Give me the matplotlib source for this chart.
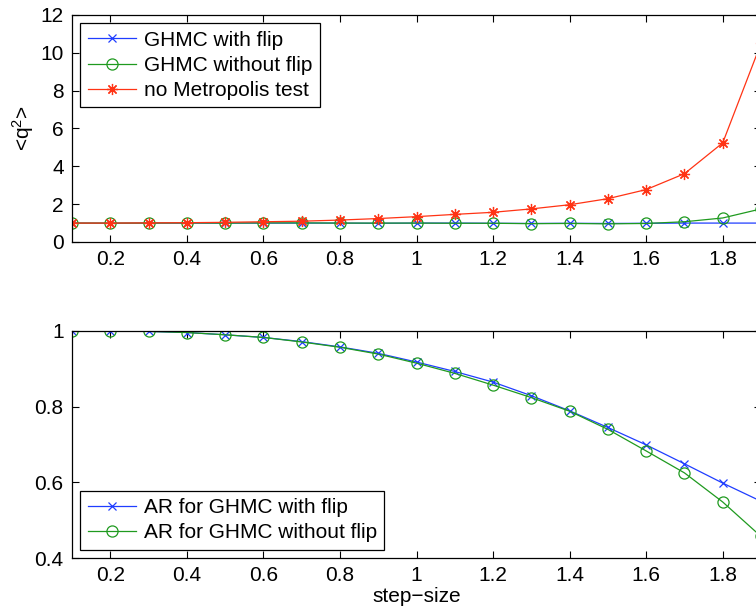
import numpy as np
import matplotlib
matplotlib.use('Agg')
import matplotlib.pyplot as plt

plt.rcParams['font.family'] = ['Liberation Sans', 'DejaVu Sans']
plt.rcParams['mathtext.default'] = 'regular'

step = [0.1, 0.2, 0.3, 0.4, 0.5, 0.6, 0.7, 0.8, 0.9, 1.0,
        1.1, 1.2, 1.3, 1.4, 1.5, 1.6, 1.7, 1.8, 1.9]

# <q^2>
q2_flip = [1.0, 0.99, 1.0, 1.0, 1.0, 1.0, 1.0, 1.0, 0.99, 1.0,
           1.0, 0.99, 0.98, 0.99, 0.98, 0.99, 1.0, 1.0, 1.0]
q2_noflip = [1.0, 1.0, 1.0, 1.01, 1.0, 1.01, 1.01, 1.0, 1.0, 1.0,
             0.99, 0.99, 0.97, 0.98, 0.96, 0.98, 1.07, 1.27, 1.75]
q2_nomet = [1.0, 1.0, 1.01, 1.02, 1.04, 1.07, 1.1, 1.16, 1.24, 1.34,
            1.46, 1.57, 1.75, 1.97, 2.29, 2.77, 3.61, 5.24, 10.5]

# acceptance rates
ar_flip = [1.0, 1.0, 0.999, 0.996, 0.990, 0.983, 0.972, 0.958, 0.941, 0.918,
           0.893, 0.865, 0.829, 0.789, 0.745, 0.699, 0.649, 0.598, 0.55]
ar_noflip = [1.0, 1.0, 0.999, 0.996, 0.990, 0.983, 0.971, 0.957, 0.939, 0.915,
             0.888, 0.857, 0.824, 0.788, 0.740, 0.683, 0.625, 0.548, 0.457]

blue = '#1f3dff'
green = '#1f9a1f'
red = '#ff3314'
fs = 15

fig = plt.figure(figsize=(7.56, 6.10), dpi=100)
W, H = 756.0, 610.0
ax1 = fig.add_axes([72 / W, 1 - 242 / H, (761 - 72) / W, (242 - 15) / H])
ax2 = fig.add_axes([72 / W, 1 - 558 / H, (761 - 72) / W, (558 - 331) / H])

ax1.plot(step, q2_flip, '-x', color=blue, lw=0.9, ms=6, mew=0.9, label='GHMC with flip')
ax1.plot(step, q2_noflip, '-o', color=green, lw=0.9, ms=8, mew=0.9, mfc='none', label='GHMC without flip')
ax1.plot(step, q2_nomet, '-', marker=(8, 2, 0), color=red, lw=0.9, ms=8, mew=0.9, label='no Metropolis test')
ax1.set_ylim(0, 12)
ax1.set_yticks(np.arange(0, 13, 2))
ax1.set_ylabel('<q$^2$>', fontsize=fs, labelpad=3)

ax2.plot(step, ar_flip, '-x', color=blue, lw=0.9, ms=6, mew=0.9, label='AR for GHMC with flip')
ax2.plot(step, ar_noflip, '-o', color=green, lw=0.9, ms=8, mew=0.9, mfc='none', label='AR for GHMC without flip')
ax2.set_ylim(0.4, 1.0)
ax2.set_yticks([0.4, 0.6, 0.8, 1.0])
ax2.set_yticklabels(['0.4', '0.6', '0.8', '1'])
ax2.set_xlabel('step\u2212size', fontsize=fs, labelpad=1)

xt = [0.2, 0.4, 0.6, 0.8, 1.0, 1.2, 1.4, 1.6, 1.8]
xl = ['0.2', '0.4', '0.6', '0.8', '1', '1.2', '1.4', '1.6', '1.8']
for ax in (ax1, ax2):
    ax.set_xlim(0.1, 1.9)
    ax.set_xticks(xt)
    ax.set_xticklabels(xl)
    ax.tick_params(direction='in', top=True, right=True, length=5, width=0.8,
                   labelsize=fs, pad=6)
    for s in ax.spines.values():
        s.set_linewidth(0.9)

leg1 = ax1.legend(loc='upper left', fontsize=fs, numpoints=1, fancybox=False,
                  edgecolor='black', framealpha=1, borderaxespad=0.4,
                  handlelength=2.3, handletextpad=0.4, labelspacing=0.3,
                  borderpad=0.35)
leg1.get_frame().set_linewidth(0.9)
leg2 = ax2.legend(loc='lower left', fontsize=fs, numpoints=1, fancybox=False,
                  edgecolor='black', framealpha=1, borderaxespad=0.4,
                  handlelength=2.3, handletextpad=0.4, labelspacing=0.3,
                  borderpad=0.35)
leg2.get_frame().set_linewidth(0.9)

fig.savefig('out.png', dpi=100)
